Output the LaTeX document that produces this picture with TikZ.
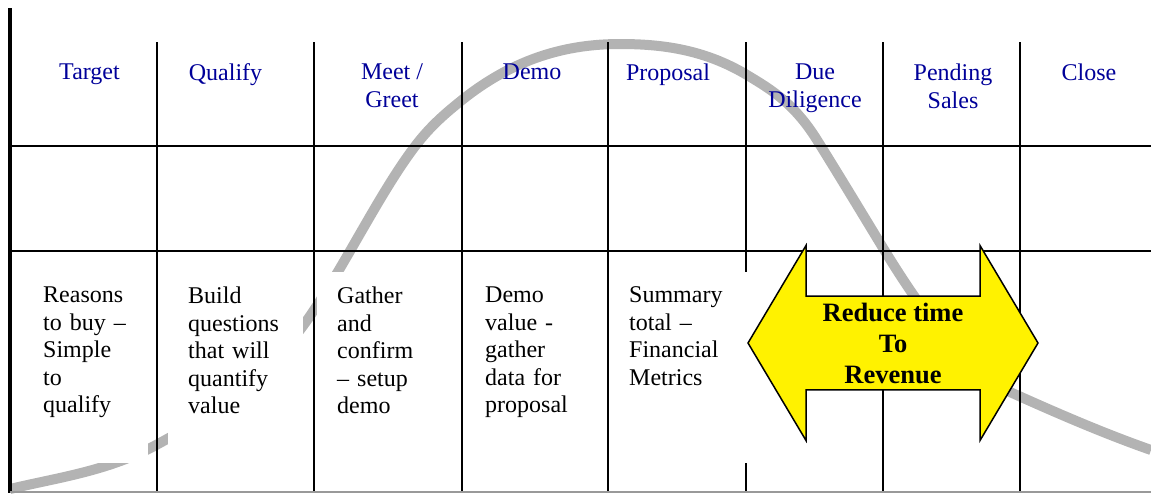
\documentclass[tikz,border=0pt]{standalone}
\usepackage{fontspec}
\setmainfont{Liberation Serif}
\usepackage{tikz}
\usetikzlibrary{shapes, arrows}

\definecolor{stageblue}{RGB}{0,0,153}
\definecolor{curvegray}{RGB}{179,179,179}

\tikzstyle{stage} = [text=stageblue, align=center, anchor=north, inner sep=0pt,
font=\fontsize{24}{28}\selectfont]
\tikzstyle{cellbox} = [rectangle, fill=white, anchor=north west, align=left,
text width=95pt, inner xsep=20pt, inner ysep=14.6pt, text depth=146pt,
font=\fontsize{24}{27.6}\selectfont]
\tikzstyle{gridline} = [draw, line width=2pt]
\tikzstyle{salescurve} = [draw=curvegray, line width=10pt]
\tikzstyle{bigarrow} = [double arrow, draw, fill=yellow, line width=1.5pt,
minimum height=290pt, minimum width=195pt, double arrow head extend=44.5pt,
double arrow tip angle=118.5, inner sep=0pt, align=center,
font=\bfseries\fontsize{26.5}{31}\selectfont]

\begin{document}
\begin{tikzpicture}[x=1pt, y=-1pt]
	\useasboundingbox (0,0) rectangle (1151,493);

	% Curve behind the table
	\path [salescurve] (10,489)
		.. controls (59.3,477.2) and (108.7,471.1) .. (158,444)
		.. controls (208.7,416.1) and (259.3,389.5) .. (310,316)
		.. controls (345.3,264.8) and (380.7,190.9) .. (416,145)
		.. controls (431.3,125.1) and (446.7,112.3) .. (462,100)
		.. controls (514.7,57.9) and (567.3,44) .. (620,44)
		.. controls (662.3,44) and (704.7,49.6) .. (747,75)
		.. controls (770.3,89) and (793.7,102.7) .. (817,140)
		.. controls (838,173.6) and (859,208.4) .. (880,243)
		.. controls (923.3,314.5) and (966.7,372.5) .. (1010,392)
		.. controls (1057,413.2) and (1104,433.5) .. (1151,450);

	% Table lines
	\path [draw, line width=4pt] (10,8) -- (10,493);
	\foreach \x in {157,314,462,608,746,883,1020}
		\path [gridline] (\x,42) -- (\x,493);
	\path [gridline] (10,146) -- (1151,146);
	\path [gridline] (10,251) -- (1151,251);
	\path [draw=gray!80, line width=1.5pt] (10,492) -- (1151,492);

	% Place nodes
	\node [stage] (target)       at (89.5,63.5) {Target};
	\node [stage] (qualify)      at (225.5,63.5) {Qualify};
	\node [stage] (meet)         at (392,63.5)  {Meet /\\Greet};
	\node [stage] (demo)         at (532,63.5)  {Demo};
	\node [stage] (proposal)     at (668,63.5)  {Proposal};
	\node [stage] (duediligence) at (815,63.5)  {Due\\Diligence};
	\node [stage] (pending)      at (953,63.5)  {Pending\\Sales};
	\node [stage] (close)        at (1089,63.5) {Close};

	\node [cellbox, text width=85pt]  (reasons)   at (23,272)  {Reasons\\to buy –\\Simple\\to\\qualify};
	\node [cellbox]                   (build)     at (168,272) {Build\\questions\\that will\\quantify\\value};
	\node [cellbox]                   (gather)    at (317,272) {Gather\\and\\confirm\\– setup\\demo};
	\node [cellbox]                   (demovalue) at (465,272) {Demo\\value -\\gather\\data for\\proposal};
	\node [cellbox, text width=101pt] (summary)   at (609,272) {Summary\\total –\\Financial\\Metrics};

	\node [bigarrow] (reduce) at (893,343) {Reduce time\\To\\Revenue};

\end{tikzpicture}
\end{document}
